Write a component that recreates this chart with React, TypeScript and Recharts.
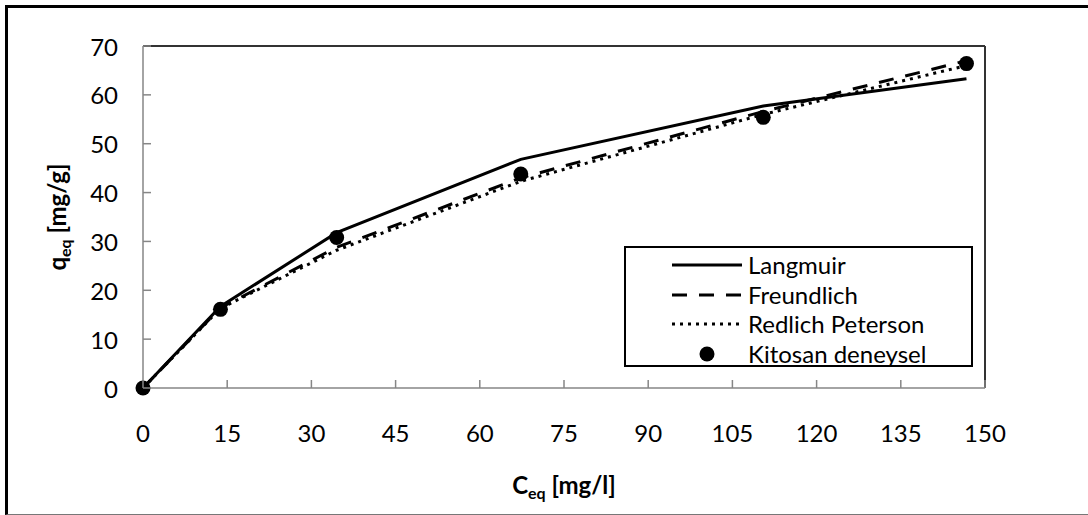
import React from 'react';
import { ComposedChart, Line, Scatter, XAxis, YAxis, ReferenceLine, Legend, Label } from 'recharts';

// equilibrium concentration [mg/l]
const cEq = [0, 13.8, 34.5, 67.3, 110.5, 146.7];
// experimental uptake [mg/g]
const kitosan = [0, 16.1, 30.8, 43.8, 55.4, 66.4];
// model fits at the same concentrations
const langmuir = [0, 16.7, 31.8, 46.8, 57.7, 63.3];
const freundlich = [0, 16.4, 28.8, 43.0, 56.6, 67.0];
const redlich = [0, 16.3, 28.2, 42.3, 56.0, 66.0];

const xTicks = [0, 15, 30, 45, 60, 75, 90, 105, 120, 135, 150];
const yTicks = [0, 10, 20, 30, 40, 50, 60, 70];

const data = cEq.map((c, i) => ({
  c,
  exp: kitosan[i],
  lang: langmuir[i],
  freu: freundlich[i],
  red: redlich[i],
}));

const FONT = 'Lato, "Open Sans", sans-serif';
const AXIS = '#868686';
const FS = 24;

const YTick = (p: any) => (
  <g>
    <line x1={p.x + 25} x2={p.x + 33} y1={p.y} y2={p.y} stroke={AXIS} strokeWidth={1.5} />
    <text x={p.x} y={p.y} textAnchor="end" dominantBaseline="central" fontSize={FS} fontFamily={FONT} fill="#000">
      {p.payload.value}
    </text>
  </g>
);

const XTick = (p: any) => (
  <g>
    <line x1={p.x} x2={p.x} y1={p.y} y2={p.y - 8} stroke={AXIS} strokeWidth={1.5} />
    <text x={p.x} y={p.y + 44} textAnchor="middle" dominantBaseline="central" fontSize={FS} fontFamily={FONT} fill="#000">
      {p.payload.value}
    </text>
  </g>
);

const XTitle = (p: any) => {
  const vb = p.viewBox;
  return (
    <text x={vb.x + vb.width / 2} y={vb.y + 106} textAnchor="middle" fontSize={FS} fontWeight={700} fontFamily={FONT} fill="#000">
      <tspan>C</tspan>
      <tspan fontSize={16} dy={5}>eq</tspan>
      <tspan dy={-5}> [mg/l]</tspan>
    </text>
  );
};

const YTitle = (p: any) => {
  const vb = p.viewBox;
  const cx = vb.x + 66;
  const cy = vb.y + vb.height / 2;
  return (
    <text x={cx} y={cy} transform={`rotate(-90 ${cx} ${cy})`} textAnchor="middle" fontSize={FS} fontWeight={700} fontFamily={FONT} fill="#000">
      <tspan>q</tspan>
      <tspan fontSize={16} dy={5}>eq</tspan>
      <tspan dy={-5}> [mg/g]</tspan>
    </text>
  );
};

const legendRows = [
  { name: 'Langmuir', kind: 'solid' },
  { name: 'Freundlich', kind: 'dash' },
  { name: 'Redlich Peterson', kind: 'dot' },
  { name: 'Kitosan deneysel', kind: 'marker' },
];

const LegendBox = () => (
  <div style={{ width: 345, height: 117, border: '2px solid #000', background: '#fff', position: 'relative', fontFamily: FONT }}>
    {legendRows.map((r, i) => (
      <div key={r.name} style={{ position: 'absolute', left: 0, top: 2 + i * 29.7, height: 29, width: 340 }}>
        <svg width={120} height={29} style={{ position: 'absolute', left: 0, top: 0 }}>
          {r.kind === 'marker' ? (
            <circle cx={81} cy={15} r={7.5} fill="#000" />
          ) : (
            <line
              x1={46}
              x2={116}
              y1={15}
              y2={15}
              stroke="#000"
              strokeWidth={3}
              strokeDasharray={r.kind === 'dash' ? '15 12' : r.kind === 'dot' ? '3 5' : undefined}
            />
          )}
        </svg>
        <span style={{ position: 'absolute', left: 122, top: 0, lineHeight: '29px', fontSize: FS, color: '#000', whiteSpace: 'nowrap' }}>
          {r.name}
        </span>
      </div>
    ))}
  </div>
);

export default function App() {
  return (
    <div style={{ position: 'absolute', left: 0, top: 0, width: 1088, height: 515, overflow: 'hidden', background: '#fff' }}>
      <div
        style={{
          position: 'absolute',
          left: 5,
          top: 5,
          width: 1120,
          height: 506,
          borderLeft: '3px solid #000',
          borderTop: '3px solid #000',
          borderBottom: '1px solid #777',
        }}
      />
      <div style={{ position: 'absolute', left: 0, top: 0 }}>
        <ComposedChart width={1088} height={515} data={data} margin={{ top: 46, right: 103, bottom: 0, left: 0 }}>
          <XAxis
            dataKey="c"
            type="number"
            domain={[0, 150]}
            ticks={xTicks}
            interval={0}
            height={127}
            tickSize={0}
            tickMargin={0}
            tick={<XTick />}
            axisLine={{ stroke: AXIS, strokeWidth: 1.5 }}
            tickLine={false}
          >
            <Label content={<XTitle />} />
          </XAxis>
          <YAxis
            type="number"
            domain={[0, 70]}
            ticks={yTicks}
            interval={0}
            width={143}
            tickSize={0}
            tickMargin={25}
            tick={<YTick />}
            axisLine={{ stroke: AXIS, strokeWidth: 1.5 }}
            tickLine={false}
          >
            <Label content={<YTitle />} />
          </YAxis>
          <ReferenceLine y={70} stroke="#333" strokeWidth={2} />
          <ReferenceLine x={150} stroke="#333" strokeWidth={2} />
          <Line dataKey="lang" name="Langmuir" stroke="#000" strokeWidth={3} dot={false} isAnimationActive={false} />
          <Line dataKey="freu" name="Freundlich" stroke="#000" strokeWidth={3} strokeDasharray="15 12" dot={false} isAnimationActive={false} />
          <Line dataKey="red" name="Redlich Peterson" stroke="#000" strokeWidth={3} strokeDasharray="3 5" dot={false} isAnimationActive={false} />
          <Scatter
            dataKey="exp"
            name="Kitosan deneysel"
            fill="#000"
            isAnimationActive={false}
            shape={(s: any) => <circle cx={s.cx} cy={s.cy} r={7.5} fill="#000" />}
          />
          <Legend
            layout="vertical"
            align="center"
            verticalAlign="middle"
            content={<LegendBox />}
            wrapperStyle={{ left: 624, top: 246, width: 349, height: 121 }}
          />
        </ComposedChart>
      </div>
    </div>
  );
}
